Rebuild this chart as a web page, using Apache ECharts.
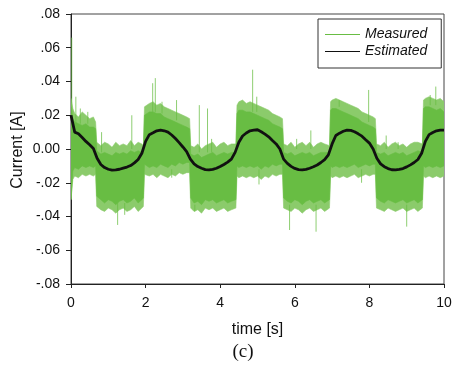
<!DOCTYPE html>
<html><head><meta charset="utf-8">
<script src="https://cdn.jsdelivr.net/npm/echarts@6/dist/echarts.min.js"></script>
<style>html,body{margin:0;padding:0;background:#fff}#c{width:453px;height:371px}</style>
</head><body><div id="c"></div>
<script>
// ---- data ----
const xTicks = [0, 2, 4, 6, 8, 10];
const yTickValues = [-0.08, -0.06, -0.04, -0.02, 0, 0.02, 0.04, 0.06, 0.08];
const yTickLabels = ['-.08', '-.06', '-.04', '-.02', '0.00', '.02', '.04', '.06', '.08'];

// Estimated current (black)
const estTime = [0.0,0.1,0.2,0.3,0.4,0.5,0.6,0.7,0.8,0.9,
  1.0,1.1,1.2,1.3,1.4,1.5,1.6,1.7,1.8,1.9,
  2.0,2.1,2.2,2.3,2.4,2.5,2.6,2.7,2.8,2.9,
  3.0,3.1,3.2,3.3,3.4,3.5,3.6,3.7,3.8,3.9,
  4.0,4.1,4.2,4.3,4.4,4.5,4.6,4.7,4.8,4.9,
  5.0,5.1,5.2,5.3,5.4,5.5,5.6,5.7,5.8,5.9,
  6.0,6.1,6.2,6.3,6.4,6.5,6.6,6.7,6.8,6.9,
  7.0,7.1,7.2,7.3,7.4,7.5,7.6,7.7,7.8,7.9,
  8.0,8.1,8.2,8.3,8.4,8.5,8.6,8.7,8.8,8.9,
  9.0,9.1,9.2,9.3,9.4,9.5,9.6,9.7,9.8,9.9,10.0];
const estCurrent = [0.020,0.010,0.009,0.0068,0.0045,0.0025,0.0003,-0.0055,-0.0092,-0.011,
  -0.012,-0.0125,-0.0124,-0.012,-0.0113,-0.0107,-0.0098,-0.0082,-0.0062,-0.0025,
  0.0045,0.0085,0.0096,0.0108,0.0112,0.0108,0.0100,0.0083,0.0062,0.0038,
  0.0012,-0.0016,-0.0060,-0.0088,-0.0104,-0.0114,-0.0122,-0.0124,-0.0121,-0.0114,
  -0.0104,-0.0092,-0.0078,-0.0060,-0.0020,0.0040,0.0077,0.0095,0.0108,0.0112,
  0.0114,0.0102,0.0088,0.0072,0.0050,0.0030,0.0000,-0.0060,-0.0085,-0.0103,
  -0.0115,-0.0122,-0.0124,-0.0121,-0.0114,-0.0105,-0.0095,-0.0080,-0.0063,-0.0035,
  0.0030,0.0080,0.0094,0.0105,0.0112,0.0110,0.0102,0.0090,0.0076,0.0055,
  0.0035,0.0000,-0.0055,-0.0088,-0.0105,-0.0116,-0.0123,-0.0124,-0.0121,-0.0116,
  -0.0106,-0.0094,-0.0080,-0.0062,-0.0025,0.0045,0.0085,0.0098,0.0108,0.0112,0.0112];

// Measured current (green): dense core of the noisy band ...
const measTime = [0,0.05,0.1,0.2,0.3,0.4,0.5,0.6,0.66,
  0.69,0.8,0.9,1.0,1.1,1.2,1.3,1.4,1.5,1.6,1.7,1.8,1.9,1.94,
  1.97,2.1,2.2,2.3,2.4,2.5,2.6,2.7,2.8,2.9,3.0,3.1,3.18,
  3.21,3.3,3.4,3.5,3.6,3.7,3.8,3.9,4.0,4.1,4.2,4.3,4.42,
  4.45,4.5,4.6,4.7,4.8,4.9,5.0,5.1,5.2,5.3,5.4,5.5,5.6,5.67,
  5.70,5.8,5.9,6.0,6.1,6.2,6.3,6.4,6.5,6.6,6.7,6.8,6.93,
  6.96,7.0,7.1,7.2,7.3,7.4,7.5,7.6,7.7,7.8,7.9,8.0,8.1,8.16,
  8.19,8.3,8.4,8.5,8.6,8.7,8.8,8.9,9.0,9.1,9.2,9.3,9.42,
  9.45,9.5,9.6,9.7,9.8,9.9,10.0];
const measHigh = [0.025,0.018,0.016,0.015,0.014,0.015,0.013,0.013,0.012,
  -0.001,-0.003,-0.002,-0.003,-0.004,-0.002,-0.003,-0.002,-0.003,-0.001,-0.002,-0.001,-0.002,-0.002,
  0.020,0.022,0.022,0.021,0.021,0.019,0.018,0.017,0.016,0.015,0.014,0.013,0.012,
  -0.003,-0.004,-0.003,-0.005,-0.004,-0.003,-0.002,-0.004,-0.003,-0.002,-0.003,-0.002,-0.002,
  0.021,0.023,0.023,0.022,0.022,0.021,0.020,0.019,0.018,0.017,0.015,0.014,0.013,0.012,
  -0.002,-0.003,-0.002,-0.004,-0.003,-0.002,-0.003,-0.002,-0.004,-0.003,-0.002,-0.002,-0.002,
  0.023,0.024,0.024,0.023,0.022,0.021,0.020,0.019,0.018,0.016,0.015,0.014,0.013,0.012,
  -0.002,-0.003,-0.002,-0.004,-0.003,-0.002,-0.003,-0.002,-0.004,-0.003,-0.002,-0.001,-0.002,
  0.024,0.025,0.025,0.024,0.023,0.024,0.022];
const measLow = [-0.030,-0.013,-0.011,-0.012,-0.010,-0.011,-0.010,-0.011,-0.010,
  -0.028,-0.030,-0.032,-0.030,-0.031,-0.033,-0.031,-0.030,-0.032,-0.031,-0.029,-0.032,-0.030,-0.029,
  -0.009,-0.011,-0.010,-0.011,-0.009,-0.010,-0.011,-0.009,-0.010,-0.008,-0.009,-0.008,-0.008,
  -0.029,-0.032,-0.031,-0.033,-0.030,-0.031,-0.030,-0.032,-0.031,-0.030,-0.032,-0.031,-0.030,
  -0.010,-0.011,-0.010,-0.011,-0.010,-0.011,-0.010,-0.012,-0.010,-0.011,-0.009,-0.010,-0.009,-0.009,
  -0.029,-0.031,-0.032,-0.030,-0.031,-0.033,-0.031,-0.030,-0.032,-0.031,-0.030,-0.032,-0.030,
  -0.010,-0.011,-0.010,-0.011,-0.010,-0.011,-0.010,-0.009,-0.011,-0.010,-0.009,-0.010,-0.009,-0.009,
  -0.029,-0.031,-0.032,-0.030,-0.031,-0.032,-0.031,-0.030,-0.032,-0.031,-0.030,-0.032,-0.030,
  -0.010,-0.011,-0.010,-0.011,-0.010,-0.011,-0.010];
// ... and the outer reach of its fine noise (same time stamps)
const peakHigh = [0.030,0.024,0.021,0.019,0.022,0.020,0.018,0.019,0.016,
  0.004,0.002,0.004,0.003,0.001,0.004,0.002,0.003,0.002,0.005,0.002,0.004,0.003,0.002,
  0.025,0.027,0.028,0.026,0.027,0.025,0.024,0.023,0.022,0.021,0.020,0.019,0.018,
  0.002,0.001,0.003,0.000,0.002,0.003,0.004,0.001,0.003,0.004,0.002,0.003,0.003,
  0.026,0.028,0.029,0.027,0.028,0.027,0.026,0.025,0.024,0.023,0.021,0.020,0.019,0.018,
  0.003,0.002,0.004,0.001,0.003,0.004,0.002,0.004,0.001,0.003,0.004,0.003,0.002,
  0.028,0.029,0.030,0.029,0.028,0.027,0.026,0.025,0.024,0.022,0.021,0.020,0.019,0.018,
  0.003,0.002,0.004,0.001,0.003,0.004,0.002,0.003,0.001,0.003,0.004,0.004,0.003,
  0.029,0.030,0.031,0.030,0.029,0.030,0.028];
const peakLow = [-0.030,-0.018,-0.016,-0.017,-0.015,-0.016,-0.015,-0.016,-0.015,
  -0.034,-0.036,-0.037,-0.035,-0.036,-0.038,-0.036,-0.035,-0.037,-0.036,-0.034,-0.037,-0.035,-0.034,
  -0.015,-0.016,-0.015,-0.017,-0.015,-0.016,-0.017,-0.015,-0.016,-0.014,-0.015,-0.014,-0.014,
  -0.035,-0.037,-0.036,-0.038,-0.035,-0.036,-0.035,-0.037,-0.036,-0.035,-0.037,-0.036,-0.035,
  -0.016,-0.017,-0.016,-0.017,-0.016,-0.017,-0.016,-0.018,-0.016,-0.017,-0.015,-0.016,-0.015,-0.015,
  -0.035,-0.036,-0.037,-0.035,-0.036,-0.038,-0.036,-0.035,-0.037,-0.036,-0.035,-0.037,-0.035,
  -0.016,-0.017,-0.016,-0.017,-0.016,-0.017,-0.016,-0.015,-0.017,-0.016,-0.015,-0.016,-0.015,-0.015,
  -0.035,-0.036,-0.037,-0.035,-0.036,-0.037,-0.036,-0.035,-0.037,-0.036,-0.035,-0.037,-0.035,
  -0.016,-0.017,-0.016,-0.017,-0.016,-0.017,-0.016];

// Measured current: isolated noise spikes outside the band
const spikeTime = [0.02,0.13,0.25,0.45,0.82,1.25,1.44,1.63,2.19,2.26,2.44,2.83,2.70,3.32,3.44,3.66,3.77,
  4.87,4.98,5.04,5.86,6.05,6.43,6.57,7.19,7.79,7.98,8.45,8.77,9.00,9.63,9.78];
const spikeFrom = [0.020,0.015,0.015,0.015,-0.002,-0.032,-0.032,0.000,0.022,0.022,0.021,0.017,-0.012,-0.033,-0.002,-0.002,-0.002,
  0.022,0.022,-0.012,-0.033,0.000,0.000,-0.033,0.025,-0.012,0.016,0.000,0.000,-0.033,0.026,0.026];
const spikeTo = [0.066,0.031,0.024,0.022,0.010,-0.045,-0.039,0.020,0.039,0.042,0.028,0.029,-0.017,-0.037,0.026,0.024,0.006,
  0.047,0.031,-0.021,-0.048,0.006,0.011,-0.049,0.029,-0.020,0.035,0.008,0.004,-0.046,0.032,0.037];

// ---- chart ----
const GREEN = '#68bd43';
const LIGHT = '#8bcb6b';
const estData = estTime.map((t, i) => [t, estCurrent[i]]);
const spikeData = [];
spikeTime.forEach((t, i) => { spikeData.push([t, spikeFrom[i]], [t, spikeTo[i]], [t, '-']); });

function yLabel(v) {
  let best = 0;
  for (let i = 0; i < yTickValues.length; i++) {
    if (Math.abs(yTickValues[i] - v) < Math.abs(yTickValues[best] - v)) best = i;
  }
  return yTickLabels[best];
}
function bandSeries(name, hi, lo, color, z) {
  return {
    name: name, type: 'custom', coordinateSystem: 'cartesian2d', clip: true, z: z, silent: true,
    data: [[measTime[0], hi[0]]],
    renderItem: (params, api) => {
      const pts = [];
      for (let i = 0; i < measTime.length; i++) pts.push(api.coord([measTime[i], hi[i]]));
      for (let i = measTime.length - 1; i >= 0; i--) pts.push(api.coord([measTime[i], lo[i]]));
      return {type: 'polygon', shape: {points: pts}, style: {fill: color, stroke: color, lineWidth: 0.6}};
    }
  };
}

const chart = echarts.init(document.getElementById('c'), null, {renderer: 'canvas'});
chart.setOption({
  animation: false,
  backgroundColor: '#fff',
  textStyle: {fontFamily: 'Liberation Sans, Arial, sans-serif'},
  grid: {left: 71, right: 9, top: 14, bottom: 87, show: true, borderColor: '#444', borderWidth: 1,
    backgroundColor: 'transparent', containLabel: false, outerBoundsMode: 'none'},
  legend: {
    show: true, orient: 'vertical', left: 318, top: 19,
    data: [{name: 'Measured', icon: 'rect'}, {name: 'Estimated', icon: 'rect'}],
    padding: [8.5, 14, 9.5, 7], itemWidth: 35, itemHeight: 1, itemGap: 3,
    borderColor: '#333', borderWidth: 1, backgroundColor: '#fff',
    textStyle: {fontSize: 14, fontStyle: 'italic', color: '#111', fontFamily: 'Liberation Sans, Arial, sans-serif'},
    itemStyle: {opacity: 1},
    selectedMode: false
  },
  xAxis: {
    type: 'value', min: 0, max: 10, interval: 2,
    axisLine: {show: true, onZero: false, lineStyle: {color: '#222', width: 1}},
    axisTick: {show: true, length: 4, lineStyle: {color: '#222'}},
    splitLine: {show: false},
    axisLabel: {fontSize: 14, color: '#111', margin: 12,
      formatter: v => { const k = xTicks.indexOf(Math.round(v)); return k >= 0 ? String(xTicks[k]) : ''; }},
    name: 'time [s]', nameLocation: 'middle', nameGap: 38,
    nameTextStyle: {fontSize: 16, color: '#111'}
  },
  yAxis: {
    type: 'value', min: -0.08, max: 0.08, interval: 0.02,
    axisLine: {show: true, onZero: false, lineStyle: {color: '#222', width: 1}},
    axisTick: {show: true, length: 5, lineStyle: {color: '#222'}},
    splitLine: {show: false},
    axisLabel: {fontSize: 14, color: '#111', margin: 11, formatter: yLabel}
  },
  graphic: [{
    type: 'text', x: 243, y: 352,
    style: {text: '(c)', font: '19px "Liberation Serif", "DejaVu Serif", serif', fill: '#111', textAlign: 'center', textVerticalAlign: 'middle'}
  }, {
    type: 'text', x: 17.5, y: 150, rotation: Math.PI / 2,
    style: {text: 'Current [A]', font: '16px "Liberation Sans", Arial, sans-serif', fill: '#111', textAlign: 'center', textVerticalAlign: 'middle'}
  }],
  series: [
    bandSeries('bandOuter', peakHigh, peakLow, LIGHT, 1),
    bandSeries('bandCore', measHigh, measLow, GREEN, 1),
    {
      name: 'Measured', type: 'line', data: spikeData, showSymbol: false, symbol: 'none', z: 2,
      connectNulls: false, lineStyle: {color: GREEN, width: 1, opacity: 0.75}, itemStyle: {color: GREEN}, silent: true
    },
    {
      name: 'Estimated', type: 'line', data: estData, showSymbol: false, symbol: 'none', z: 3,
      lineStyle: {color: '#111', width: 2.8}, itemStyle: {color: '#111'}, silent: true
    }
  ]
});
</script>
</body></html>
